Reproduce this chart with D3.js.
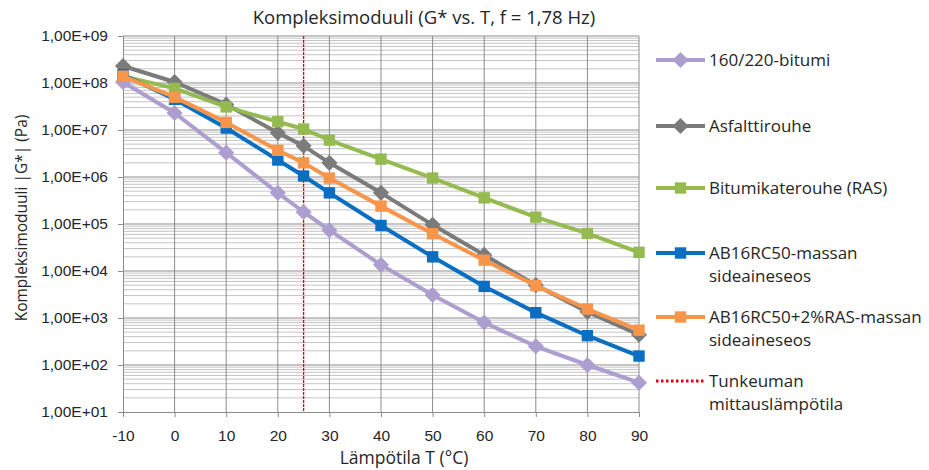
<!DOCTYPE html>
<html>
<head>
<meta charset="utf-8">
<script src="https://cdn.jsdelivr.net/npm/d3@7"></script>
<style>
  body { margin: 0; background: #fff; }
  svg { font-family: "Open Sans", "Liberation Sans", sans-serif; }
</style>
</head>
<body>
<div id="vis"><svg width="929" height="470"></svg></div>
<script>
const temps = [-10, 0, 10, 20, 25, 30, 40, 50, 60, 70, 80, 90];
const bitumi = [1.05e8, 2.3e7, 3.3e6, 4.6e5, 1.8e5, 7.4e4, 1.35e4, 3.1e3, 800, 250, 100, 42];
const asfalttirouhe = [2.3e8, 1.05e8, 3.5e7, 8.7e6, 4.6e6, 2.0e6, 4.6e5, 9.6e4, 2.2e4, 5.0e3, 1.35e3, 440];
const ras = [1.4e8, 7.7e7, 3.1e7, 1.5e7, 1.05e7, 6.1e6, 2.4e6, 9.5e5, 3.6e5, 1.4e5, 6.3e4, 2.5e4];
const ab16 = [1.5e8, 4.5e7, 1.1e7, 2.3e6, 1.05e6, 4.6e5, 9.3e4, 2.0e4, 4.7e3, 1.3e3, 420, 155];
const ab16ras = [1.4e8, 5.0e7, 1.45e7, 3.7e6, 2.0e6, 9.5e5, 2.4e5, 6.2e4, 1.7e4, 4.9e3, 1.55e3, 550];
const xTicks = [-10, 0, 10, 20, 30, 40, 50, 60, 70, 80, 90];
const yTicks = [1e1, 1e2, 1e3, 1e4, 1e5, 1e6, 1e7, 1e8, 1e9];
const measureTemp = 25;

const series = [
  { name: ["160/220-bitumi"], values: bitumi, color: "#ac9fd0", symbol: d3.symbolDiamond2, size: 165 },
  { name: ["Asfalttirouhe"], values: asfalttirouhe, color: "#7b7b7b", symbol: d3.symbolDiamond2, size: 165 },
  { name: ["Bitumikaterouhe (RAS)"], values: ras, color: "#95bb50", symbol: d3.symbolSquare, size: 130 },
  { name: ["AB16RC50-massan", "sideaineseos"], values: ab16, color: "#0a6fc2", symbol: d3.symbolSquare, size: 130 },
  { name: ["AB16RC50+2%RAS-massan", "sideaineseos"], values: ab16ras, color: "#f7964a", symbol: d3.symbolSquare, size: 130 }
];

const svg = d3.select("#vis").select("svg");
const margin = { top: 36, left: 123, right: 639, bottom: 412 };

const x = d3.scaleLinear().domain([-10, 90]).range([margin.left, margin.right]);
const y = d3.scaleLog().domain([1e1, 1e9]).range([margin.bottom, margin.top]);

// minor horizontal grid
const minor = [];
for (let e = 1; e < 9; e++) for (let m = 2; m <= 9; m++) minor.push(m * Math.pow(10, e));
svg.append("g").selectAll("line").data(minor).join("line")
  .attr("x1", margin.left).attr("x2", margin.right)
  .attr("y1", d => y(d)).attr("y2", d => y(d))
  .attr("stroke", "#c4c4c4").attr("stroke-width", 1);

// major horizontal grid
svg.append("g").selectAll("line").data(yTicks.slice(1)).join("line")
  .attr("x1", margin.left).attr("x2", margin.right)
  .attr("y1", d => y(d)).attr("y2", d => y(d))
  .attr("stroke", "#8c8c8c").attr("stroke-width", 1);

// vertical grid
svg.append("g").selectAll("line").data(xTicks.slice(1)).join("line")
  .attr("x1", d => x(d)).attr("x2", d => x(d))
  .attr("y1", margin.top).attr("y2", margin.bottom)
  .attr("stroke", "#8c8c8c").attr("stroke-width", 1);

// axes
const fmt = d => "1,00E+" + String(Math.round(Math.log10(d))).padStart(2, "0");
const yAxis = svg.append("g")
  .attr("transform", `translate(${margin.left},0)`)
  .call(d3.axisLeft(y).tickValues(yTicks).tickFormat(fmt).tickSize(5).tickPadding(10));
const xAxis = svg.append("g")
  .attr("transform", `translate(0,${margin.bottom})`)
  .call(d3.axisBottom(x).tickValues(xTicks).tickFormat(d => d).tickSize(5).tickPadding(13));
[xAxis, yAxis].forEach(a => {
  a.select(".domain").attr("stroke", "#8c8c8c");
  a.selectAll(".tick line").attr("stroke", "#8c8c8c");
  a.selectAll("text").attr("fill", "#262626").style("font-size", "15.5px");
});

// measurement temperature line
svg.append("line")
  .attr("x1", x(measureTemp)).attr("x2", x(measureTemp))
  .attr("y1", margin.top).attr("y2", margin.bottom)
  .attr("stroke", "#d9000f").attr("stroke-width", 1.3)
  .attr("stroke-dasharray", "3,1");

// series
const line = d3.line().x((d, i) => x(temps[i])).y(d => y(d));
series.forEach(s => {
  const g = svg.append("g");
  g.append("path").attr("d", line(s.values))
    .attr("fill", "none").attr("stroke", s.color)
    .attr("stroke-width", 4).attr("stroke-linejoin", "round");
  g.selectAll("path.pt").data(s.values).join("path")
    .attr("class", "pt")
    .attr("transform", (d, i) => `translate(${x(temps[i])},${y(d)})`)
    .attr("d", d3.symbol(s.symbol, s.size))
    .attr("fill", s.color);
});

// titles
svg.append("text").attr("x", 424).attr("y", 24).attr("text-anchor", "middle")
  .style("font-size", "18.5px").attr("fill", "#262626")
  .text("Kompleksimoduuli (G* vs. T, f = 1,78 Hz)");
svg.append("text").attr("x", 404).attr("y", 464).attr("text-anchor", "middle")
  .style("font-size", "17.5px").attr("fill", "#262626")
  .text("Lämpötila T (°C)");
svg.append("text").attr("transform", "translate(27,218) rotate(-90)")
  .attr("text-anchor", "middle").style("font-size", "15.5px").attr("fill", "#262626")
  .text("Kompleksimoduuli |G*| (Pa)");

// legend
const legendItems = series.map(s => ({ ...s, dotted: false }))
  .concat([{ name: ["Tunkeuman", "mittauslämpötila"], color: "#e0000f", dotted: true }]);
const legendY = [60, 126, 188, 253, 317, 381];
const lg = svg.append("g").selectAll("g").data(legendItems).join("g")
  .attr("transform", (d, i) => `translate(656,${legendY[i]})`);
lg.append("line").attr("x1", 0).attr("x2", 49).attr("y1", 0).attr("y2", 0)
  .attr("stroke", d => d.color)
  .attr("stroke-width", d => d.dotted ? 3 : 4)
  .attr("stroke-dasharray", d => d.dotted ? "2.5,2.5" : null);
lg.filter(d => !d.dotted).append("path")
  .attr("transform", "translate(24.5,0)")
  .attr("d", d => d3.symbol(d.symbol, d.size)())
  .attr("fill", d => d.color);
lg.append("text").attr("x", 53).attr("y", 0)
  .style("font-size", "17px").attr("fill", "#262626")
  .selectAll("tspan").data(d => d.name).join("tspan")
  .attr("x", 53).attr("dy", (d, i) => i === 0 ? "0.35em" : "23px")
  .text(d => d);
</script>
</body>
</html>
